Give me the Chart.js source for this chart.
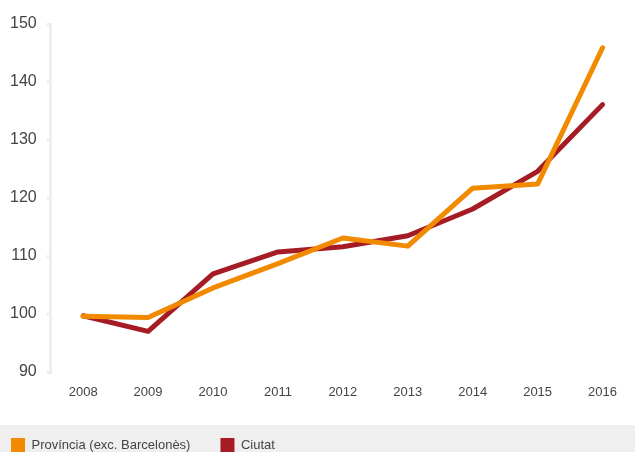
<!DOCTYPE html>
<html>
<head>
<meta charset="utf-8">
<script src="https://cdn.jsdelivr.net/npm/chart.js@4/dist/chart.umd.min.js"></script>
<style>
  html, body { margin: 0; padding: 0; background: #fff; overflow: hidden; }
  #wrap { width: 635px; height: 452px; position: relative; }
</style>
</head>
<body>
<div id="wrap"><canvas id="chart"></canvas></div>
<script>
// index values (2008 = 100)
var years = ["2008", "2009", "2010", "2011", "2012", "2013", "2014", "2015", "2016"];
var provincia = [99.6, 99.4, 104.5, 108.7, 113.1, 111.7, 121.7, 122.4, 145.9];
var ciutat = [99.7, 97.0, 106.9, 110.7, 111.6, 113.5, 118.1, 124.6, 136.1];
var yTicks = [90, 100, 110, 120, 130, 140, 150];

var FONT = "'Liberation Sans', Arial, sans-serif";

// grey strip at the bottom, legend placed inside it
var legendBand = {
    id: "legendBand",
    beforeDraw: function(chart) {
        var lg = chart.legend;
        lg.top = 408;
        lg.left = -19;
        var ctx = chart.ctx;
        ctx.save();
        ctx.fillStyle = "#efefef";
        ctx.fillRect(0, 425, chart.width, chart.height - 425);
        ctx.restore();
    }
};

var ctx1 = document.getElementById("chart");

var chart1 = new Chart(ctx1, {
    type: "line",
    data: {
        labels: years,
        datasets: [
            {
                label: "Província (exc. Barcelonès)",
                data: provincia,
                borderColor: "#f28a00",
                backgroundColor: "#f28a00",
                borderWidth: 5,
                pointRadius: 0,
                tension: 0,
                borderCapStyle: "round",
                borderJoinStyle: "round"
            },
            {
                label: "Ciutat",
                data: ciutat,
                borderColor: "#a51c24",
                backgroundColor: "#a51c24",
                borderWidth: 5,
                pointRadius: 0,
                tension: 0,
                borderCapStyle: "round",
                borderJoinStyle: "round"
            }
        ]
    },
    options: {
        responsive: true,
        maintainAspectRatio: false,
        animation: false,
        layout: { padding: { left: 0, top: 24, right: -3, bottom: -2 } },
        plugins: {
            tooltip: { enabled: false },
            legend: {
                display: true,
                position: "bottom",
                align: "start",
                labels: {
                    boxWidth: 14,
                    boxHeight: 14,
                    padding: 30,
                    color: "#444",
                    font: { family: FONT, size: 13 },
                    generateLabels: function(chart) {
                        var items = Chart.defaults.plugins.legend.labels.generateLabels(chart);
                        items.forEach(function(it) { it.lineWidth = 0; });
                        return items;
                    }
                }
            }
        },
        scales: {
            x: {
                offset: true,
                grid: { display: false },
                border: { display: false },
                ticks: {
                    color: "#444",
                    padding: 5,
                    font: { family: FONT, size: 13 }
                },
                afterFit: function(scale) { scale.height = 28; }
            },
            y: {
                min: 90,
                max: 150,
                afterBuildTicks: function(scale) {
                    scale.ticks = yTicks.map(function(v) { return { value: v }; });
                },
                grid: {
                    drawOnChartArea: false,
                    color: "#eeeeee",
                    lineWidth: 3,
                    tickLength: 4
                },
                border: { color: "#eeeeee", width: 3 },
                ticks: {
                    color: "#444",
                    padding: 10,
                    font: { family: FONT, size: 16 }
                }
            }
        }
    },
    plugins: [legendBand]
});
</script>
</body>
</html>
